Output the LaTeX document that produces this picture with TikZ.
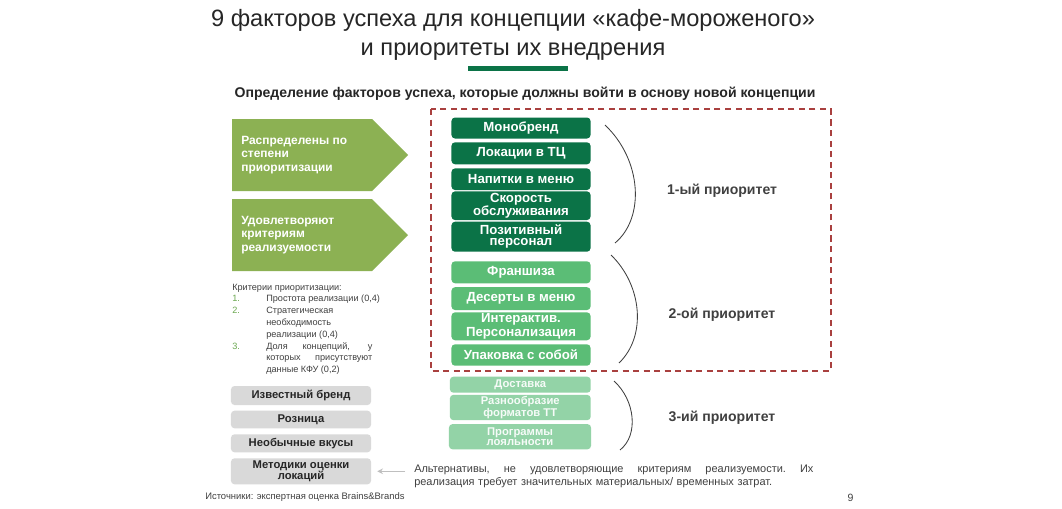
\documentclass[tikz,border=0pt]{standalone}
\usepackage{fontspec}
\setmainfont{Liberation Sans}
\usepackage{tikz}
\usetikzlibrary{positioning, arrows.meta}
\usepackage{xcolor}
\definecolor{CafeDarkGreen}{HTML}{0B7347}
\definecolor{CafeMidGreen}{HTML}{5BBD76}
\definecolor{CafeLightGreen}{HTML}{93D3A7}
\definecolor{CafeOlive}{HTML}{8CB153}
\definecolor{CafeGray}{HTML}{D9D9D9}
\definecolor{CafeRed}{HTML}{A9403F}
\definecolor{CafeText}{HTML}{262626}
\definecolor{CafeSoftText}{HTML}{404040}
\definecolor{CafeArrowGray}{HTML}{BFBFBF}
\definecolor{CafeNumGreen}{HTML}{6AA84F}
\newcommand{\critnum}[1]{\makebox[0.85cm][l]{\textcolor{CafeNumGreen}{#1}}}
\newcommand{\critpad}{\hspace*{0.85cm}}
\newcommand{\critline}[1]{\makebox[2.65cm][s]{#1}}
\tikzset{
    % Factor boxes - rounded corners
    prioone/.style={
        rectangle,
        rounded corners=2.5pt,
        fill=CafeDarkGreen,
        text=white,
        minimum width=3.475cm,
        inner sep=1pt,
        align=center,
        font=\fontsize{9.4}{8}\selectfont\bfseries
    },
    priotwo/.style={
        prioone,
        fill=CafeMidGreen
    },
    priothree/.style={
        prioone,
        fill=CafeLightGreen,
        text=white!92!CafeLightGreen,
        font=\fontsize{8}{7.4}\selectfont\bfseries
    },
    altbox/.style={
        rectangle,
        rounded corners=2.5pt,
        fill=CafeGray,
        text=CafeText,
        minimum width=3.5cm,
        inner sep=1pt,
        align=center,
        font=\fontsize{8}{8}\selectfont\bfseries
    },
    % Text styles
    chevrontext/.style={
        anchor=west,
        inner sep=0pt,
        text=white,
        align=left,
        font=\fontsize{8.5}{9.5}\selectfont\bfseries
    },
    priolabel/.style={
        inner sep=0pt,
        text=CafeSoftText,
        font=\fontsize{10}{10}\selectfont\bfseries
    },
    smalltext/.style={
        inner sep=0pt,
        text=CafeSoftText,
        align=left
    },
    % Line styles
    bracearc/.style={
        draw=CafeSoftText,
        line width=0.6pt
    },
    dashframe/.style={
        draw=CafeRed,
        line width=1.4pt,
        dash pattern=on 4.3pt off 3.2pt
    },
    altarrow/.style={
        -{Stealth[length=4pt,width=4pt]},
        draw=CafeArrowGray,
        line width=0.8pt
    }
}
\begin{document}
\begin{tikzpicture}[x=0.025cm, y=-0.025cm]
    \fill[white] (0,0) rectangle (1062,508);
    \useasboundingbox (0,0) rectangle (1062,508);

    % Heading
    \node[text=CafeText, align=center, font=\fontsize{16.8}{20.3}\selectfont] (title) at (513,35)
        {9 факторов успеха для концепции «кафе-мороженого»\\и приоритеты их внедрения};
    \fill[CafeDarkGreen] (468,66) rectangle (568,71);
    \node[text=CafeText, font=\fontsize{10}{11}\selectfont\bfseries] (subtitle) at (525,94)
        {Определение факторов успеха, которые должны войти в основу новой концепции};

    % Left chevrons
    \fill[CafeOlive] (232,119) -- (372,119) -- (408,155) -- (372,191) -- (232,191) -- cycle;
    \fill[CafeOlive] (232,199) -- (372,199) -- (408,235) -- (372,271) -- (232,271) -- cycle;
    \node[chevrontext] (sorted) at (241,155) {Распределены по\\степени\\приоритизации};
    \node[chevrontext] (feasible) at (241,235) {Удовлетворяют\\критериям\\реализуемости};

    % Criteria
    \node[smalltext, anchor=north west, font=\fontsize{6.5}{8.4}\selectfont] (criteria) at (232,283.5)
        {Критерии приоритизации:\\
         \critnum{1.}Простота реализации (0,4)\\
         \critnum{2.}Стратегическая\\
         \critpad необходимость\\
         \critpad реализации (0,4)\\
         \critnum{3.}\critline{Доля концепций, у}\\
         \critpad\critline{которых присутствуют}\\
         \critpad данные КФУ (0,2)};

    % Dropped alternatives
    \node[altbox, minimum height=0.475cm] (brand) at (301,395.5) {Известный бренд};
    \node[altbox, minimum height=0.44cm] (retail) at (301,419.5) {Розница};
    \node[altbox, minimum height=0.45cm] (tastes) at (301,443.3) {Необычные вкусы};
    \node[altbox, minimum height=0.65cm] (methods) at (301,471.3) {Методики оценки\\локаций};

    % First priority
    \node[prioone, minimum height=0.525cm] (mono) at (521,128) {Монобренд};
    \node[prioone, minimum height=0.55cm] (loc) at (521,153.3) {Локации в ТЦ};
    \node[prioone, minimum height=0.54cm] (drinks) at (521,179.2) {Напитки в меню};
    \node[prioone, minimum height=0.63cm] (speed) at (521,205.7) {Скорость\\обслуживания};
    \node[prioone, minimum height=0.75cm] (staff) at (521,236.7) {Позитивный\\персонал};

    % Second priority
    \node[priotwo, minimum height=0.55cm] (franch) at (521,272.3) {Франшиза};
    \node[priotwo, minimum height=0.57cm] (dessert) at (521,298.6) {Десерты в меню};
    \node[priotwo, minimum height=0.68cm] (interact) at (521,326.3) {Интерактив.\\Персонализация};
    \node[priotwo, minimum height=0.535cm] (pack) at (521,355) {Упаковка с собой};

    % Third priority
    \node[priothree, minimum width=3.52cm, minimum height=0.4cm] (deliv) at (520.3,384.7) {Доставка};
    \node[priothree, minimum width=3.52cm, minimum height=0.54cm] (formats) at (520.3,407.5) {Разнообразие\\форматов ТТ};
    \node[priothree, minimum width=3.55cm, minimum height=0.63cm] (loyal) at (520,436.7) {Программы\\лояльности};

    \draw[dashframe] (431,109) rectangle (830.5,371);

    % Braces and priority labels
    \draw[bracearc] (605,125) .. controls (642,160) and (645,218) .. (615,243);
    \draw[bracearc] (611,255) .. controls (642,285) and (647,336) .. (619,363);
    \draw[bracearc] (614,381) .. controls (635,400) and (639,435) .. (620,450);
    \node[priolabel] (first) at (722,191) {1-ый приоритет};
    \node[priolabel] (second) at (722,315) {2-ой приоритет};
    \node[priolabel] (third) at (722,418) {3-ий приоритет};

    % Note on alternatives
    \node[smalltext, anchor=west, text width=9.975cm, font=\fontsize{7.8}{9.4}\selectfont] (alttext) at (414,476.5)
        {\makebox[9.975cm][l]{Альтернативы,\hfill не\hfill удовлетворяющие\hfill критериям\hfill реализуемости.\hfill Их}\\
         реализация требует значительных материальных/ временных затрат.};
    \draw[altarrow, shorten <=0.225cm, shorten >=0.15cm] (alttext.west |- methods.east) -- (methods.east);

    % Footer
    \node[smalltext, anchor=west, font=\fontsize{6.7}{7}\selectfont] (source) at (205,497.5)
        {Источники: экспертная оценка Brains\&Brands};
    \node[smalltext, font=\fontsize{7.5}{8}\selectfont] (pagenum) at (850.5,497.5) {9};
\end{tikzpicture}
\end{document}
